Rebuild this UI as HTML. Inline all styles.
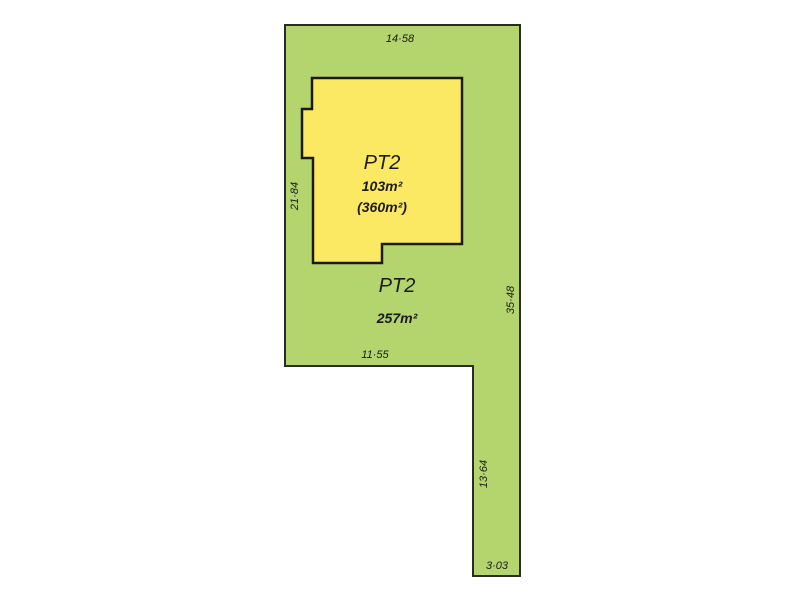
<!DOCTYPE html>
<html><head><meta charset="utf-8"><style>
html,body{margin:0;padding:0;background:#fff;}
svg{display:block;}
text{font-family:"Liberation Sans",sans-serif;font-style:italic;fill:#1a1a1a;}
</style></head><body>
<svg width="800" height="600" viewBox="0 0 800 600" xmlns="http://www.w3.org/2000/svg">
<polygon points="285,25 520,25 520,576 473,576 473,366 285,366" fill="#b4d46e" stroke="#2a2a2a" stroke-width="2"/>
<polygon points="312,78 462,78 462,244 382,244 382,263 313,263 313,158 302,158 302,109 312,109" fill="#fce963" stroke="#1a1a1a" stroke-width="2.5"/>
<text x="400" y="42" font-size="11" text-anchor="middle">14·58</text>
<text x="382" y="169" font-size="20" text-anchor="middle">PT2</text>
<text x="382" y="191" font-size="14" text-anchor="middle" font-weight="bold">103m²</text>
<text x="382" y="212" font-size="14" text-anchor="middle" font-weight="bold">(360m²)</text>
<text x="397" y="292" font-size="20" text-anchor="middle">PT2</text>
<text x="397" y="323" font-size="14" text-anchor="middle" font-weight="bold">257m²</text>
<text x="375" y="358" font-size="11" text-anchor="middle">11·55</text>
<text x="497" y="569" font-size="11" text-anchor="middle">3·03</text>
<text transform="translate(298,196) rotate(-90)" font-size="11" text-anchor="middle">21·84</text>
<text transform="translate(514,300) rotate(-90)" font-size="11" text-anchor="middle">35·48</text>
<text transform="translate(487,474) rotate(-90)" font-size="11" text-anchor="middle">13·64</text>
</svg>
</body></html>
